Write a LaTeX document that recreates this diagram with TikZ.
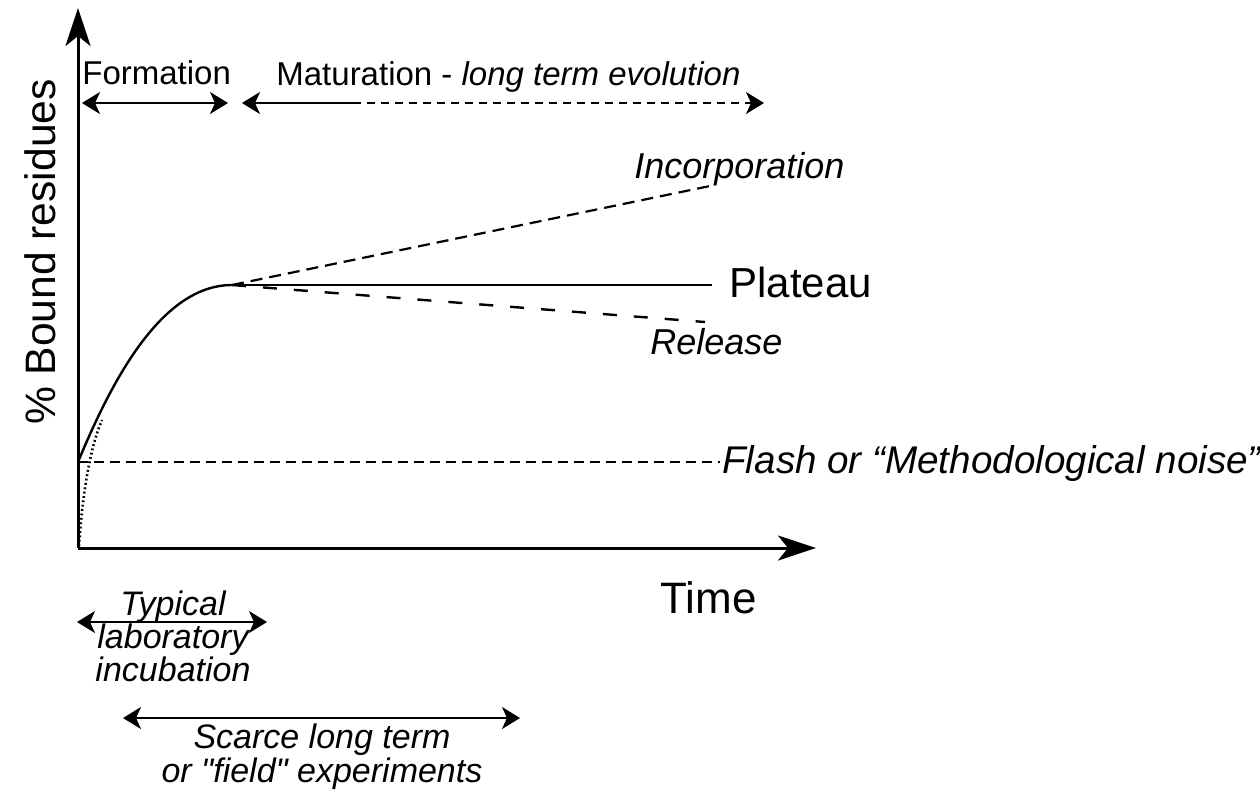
\documentclass[tikz,border=0pt]{standalone}
\usepackage{fontspec}
\setmainfont{Liberation Sans}
\newfontfamily\qfont{Liberation Sans}[Ligatures=TeXOff]
\usetikzlibrary{arrows.meta}
\newcommand{\sq}{{\qfont\itshape"}}
\begin{document}
\begin{tikzpicture}[x=0.5pt,y=-0.5pt,
  txt/.style={inner sep=0pt, font=\fontsize{16.5}{18}\selectfont},
  itxt/.style={inner sep=0pt, font=\fontsize{18}{20}\selectfont\itshape},
  axis/.style={line width=1.5pt, -{Stealth[length=19pt,width=12.5pt,inset=5pt]}},
  dbl/.style={line width=1pt, {Stealth[length=9pt,width=11pt,inset=2.5pt]}-{Stealth[length=9pt,width=11pt,inset=2.5pt]}},
  tipl/.style={line width=1pt, {Stealth[length=9pt,width=11pt,inset=2.5pt]}-},
  tipr/.style={line width=1pt, -{Stealth[length=9pt,width=11pt,inset=2.5pt]}},
  curve/.style={line width=1.2pt},
  shortdash/.style={line width=1pt, dash pattern=on 4pt off 3pt},
  incdash/.style={line width=1.1pt, dash pattern=on 6pt off 3.5pt},
  reldash/.style={line width=1.2pt, dash pattern=on 7pt off 8.5pt},
  flashdash/.style={line width=1.3pt, dash pattern=on 5pt off 3pt},
  dotline/.style={line width=1.3pt, dash pattern=on 0.9pt off 1.3pt}
]
\useasboundingbox (0,0) rectangle (1260,789);
\fill[white] (0,0) rectangle (1260,789);

% axes
\coordinate (O) at (78,548);
\coordinate (ytop) at (78,8);
\coordinate (xend) at (816,548);
\draw[axis] (O) -- (ytop);
\draw[axis] (O) -- (xend);

% key points
\coordinate (f0) at (78,462);
\coordinate (peak) at (232,285);
\coordinate (join) at (102,420);
\coordinate (plend) at (712,285);
\coordinate (incend) at (710,186);
\coordinate (relend) at (705,322);
\coordinate (flend) at (720,462);
\coordinate (dot0) at (79,546);

% curves
\draw[curve] (f0) .. controls (110,385) and (160,285) .. (peak);
\draw[dotline] (dot0) .. controls (82,500) and (89,450) .. (join);
\draw[curve, line width=1pt] (peak) -- (plend);
\draw[incdash] (peak) -- (incend);
\draw[reldash] (peak) -- (relend);
\draw[flashdash] (f0) -- (flend);

% top arrows
\coordinate (fa) at (82,103);
\coordinate (fb) at (228,103);
\draw[dbl] (fa) -- (fb);
\coordinate (ma) at (242,103);
\coordinate (mm) at (353,103);
\coordinate (mb) at (764,103);
\draw[tipl] (ma) -- (mm);
\draw[tipr, shortdash] (mm) -- (mb);

% bottom arrows
\coordinate (la) at (77,622);
\coordinate (lb) at (267,622);
\draw[dbl] (la) -- (lb);
\coordinate (sa) at (123,718);
\coordinate (sb) at (520,718);
\draw[dbl] (sa) -- (sb);

% labels
\node[txt, anchor=base west] (formation) at (82,84) {Formation};
\node[txt, anchor=base west] (maturation) at (276,85) {Maturation - \textit{long term evolution}};
\node[itxt, anchor=base west] (inc) at (634,178) {Incorporation};
\node[inner sep=0pt, font=\fontsize{21}{24}\selectfont, anchor=base west] (plateau) at (729,297) {Plateau};
\node[itxt, anchor=base west] (rel) at (650,354) {Release};
\node[inner sep=0pt, font=\fontsize{19.3}{21}\selectfont\itshape, anchor=base west] (flash) at (722,473) {Flash or “Methodological noise”};
\node[inner sep=0pt, font=\fontsize{22}{24}\selectfont, anchor=base west] (time) at (660,613) {Time};
\node[inner sep=0pt, font=\fontsize{21.3}{24}\selectfont, rotate=90, anchor=base] (ylab) at (55,252) {\% Bound residues};
\node[inner sep=0pt, font=\fontsize{17}{16.5}\selectfont\itshape, align=center, anchor=north] (lab) at (173,590) {Typical\\laboratory\\incubation};
\node[inner sep=0pt, font=\fontsize{17}{17}\selectfont\itshape, align=center, anchor=north] (scarce) at (322,723) {Scarce long term\\or \sq field\sq{} experiments};
\end{tikzpicture}
\end{document}
